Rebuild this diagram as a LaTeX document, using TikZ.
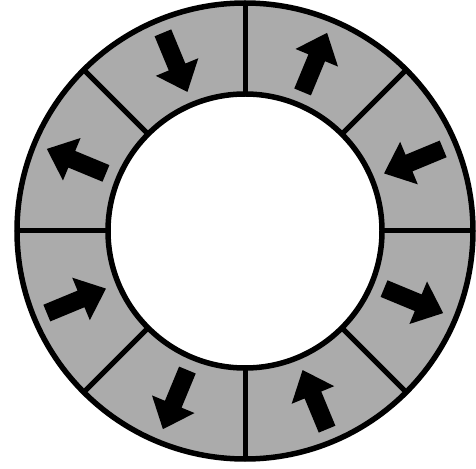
\documentclass[tikz,border=0pt]{standalone}
\begin{document}
\begin{tikzpicture}[
        x=1pt, y=1pt,
        % Stili dell'anello e delle frecce di magnetizzazione
        settore/.style={fill=black!33, even odd rule},
        bordo/.style={line width=5.5pt},
        divisore/.style={line width=5pt},
        pics/magnete/.style={code={
            \fill[black] (-32,-9) -- (5,-9) -- (5,-23) -- (32,0) -- (5,23) -- (5,9) -- (-32,9) -- cycle;
        }}
    ]
    \useasboundingbox (-245,-237) rectangle (231,231);

    % ==============================
    % 1. ANELLO
    % ==============================
    \fill[settore] (0,0) circle (228) (0,0) circle (137);

    % Divisori tra i segmenti
    \draw[divisore] (0:137) -- (0:228);     \draw[divisore] (45:137) -- (45:228);
    \draw[divisore] (90:137) -- (90:228);   \draw[divisore] (135:137) -- (135:228);
    \draw[divisore] (180:137) -- (180:228); \draw[divisore] (225:137) -- (225:228);
    \draw[divisore] (270:137) -- (270:228); \draw[divisore] (315:137) -- (315:228);

    % Bordi esterno e interno
    \draw[bordo] (0,0) circle (228);
    \draw[bordo] (0,0) circle (137);

    % ==============================
    % 2. MAGNETIZZAZIONE DEI SEGMENTI
    % ==============================
    \pic[rotate=202.5] at (22.5:182.5) {magnete};
    \pic[rotate=67.5] at (67.5:182.5) {magnete};
    \pic[rotate=-67.5] at (112.5:182.5) {magnete};
    \pic[rotate=157.5] at (157.5:182.5) {magnete};
    \pic[rotate=22.5] at (202.5:182.5) {magnete};
    \pic[rotate=-112.5] at (247.5:182.5) {magnete};
    \pic[rotate=112.5] at (292.5:182.5) {magnete};
    \pic[rotate=-22.5] at (337.5:182.5) {magnete};

\end{tikzpicture}
\end{document}
